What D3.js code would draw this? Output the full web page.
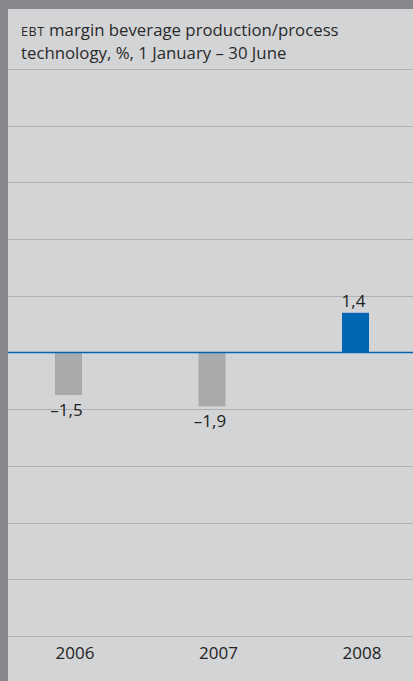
<!DOCTYPE html>
<html>
<head>
	<title>EBT margin</title>
	<meta charset='utf-8'>
	<style>
		body { margin: 0; background: #86878b; }
		.chart { display: block; }
		.title { font-family: 'Open Sans', sans-serif; font-size: 16.8px; fill: #2a2a2a; }
		.title .sc { font-size: 12.5px; letter-spacing: 0.6px; }
		.grid line { stroke: #afb0b2; stroke-width: 1.2px; }
		.zero { stroke: #0066b3; stroke-width: 1.5px; }
		.value, .year { font-family: 'Open Sans', sans-serif; font-size: 17px; fill: #222; }
	</style>
</head>
<body>
<div id="chart"></div>
<script src='https://d3js.org/d3.v7.min.js'></script>
<script>
	'use strict';

	// данные
	const years = ['2006', '2007', '2008'];
	const values = [-1.5, -1.9, 1.4];
	const valueLabels = ['\u20131,5', '\u20131,9', '1,4'];
	const gridTicks = [-10, -8, -6, -4, -2, 2, 4, 6, 8, 10];
	const barColors = ['#a8a9ab', '#a8a9ab', '#0066b3'];

	const W = 413, H = 681;

	const svg = d3.select('#chart').append('svg')
		.attr('class', 'chart')
		.attr('width', W)
		.attr('height', H);

	// фон панели
	svg.append('rect')
		.attr('x', 8).attr('y', 9)
		.attr('width', W - 8).attr('height', H - 9)
		.attr('fill', '#d3d4d6');

	const yScale = d3.scaleLinear().domain([-10, 10]).range([636, 69]);
	const xScale = d3.scalePoint().domain(years).range([68.5, 355.5]);
	const barWidth = 27;

	// заголовок
	const title = svg.append('text').attr('class', 'title');
	const l1 = title.append('tspan').attr('x', 21).attr('y', 36);
	l1.append('tspan').attr('class', 'sc').text('EBT');
	l1.append('tspan').text(' margin beverage production/process');
	title.append('tspan').attr('x', 21).attr('y', 58.5)
		.text('technology, %, 1 January \u2013 30 June');

	// сетка
	svg.append('g').attr('class', 'grid')
		.selectAll('line')
		.data(gridTicks)
		.enter().append('line')
		.attr('x1', 8).attr('x2', W)
		.attr('y1', d => Math.round(yScale(d)) + 0.5)
		.attr('y2', d => Math.round(yScale(d)) + 0.5);

	// столбики
	svg.selectAll('.bar')
		.data(values)
		.enter().append('rect')
		.attr('class', 'bar')
		.attr('x', (d, i) => xScale(years[i]) - barWidth / 2)
		.attr('width', barWidth)
		.attr('y', d => yScale(Math.max(0, d)))
		.attr('height', d => Math.abs(yScale(d) - yScale(0)))
		.attr('fill', (d, i) => barColors[i]);

	// нулевая линия
	svg.append('line')
		.attr('class', 'zero')
		.attr('x1', 8).attr('x2', W)
		.attr('y1', yScale(0)).attr('y2', yScale(0));

	// подписи значений
	svg.selectAll('.value')
		.data(values)
		.enter().append('text')
		.attr('class', 'value')
		.attr('text-anchor', 'middle')
		.attr('x', (d, i) => xScale(years[i]) - 2)
		.attr('y', d => d >= 0 ? yScale(d) - 6 : yScale(d) + 21)
		.text((d, i) => valueLabels[i]);

	// годы
	svg.selectAll('.year')
		.data(years)
		.enter().append('text')
		.attr('class', 'year')
		.attr('text-anchor', 'middle')
		.attr('x', d => xScale(d) + 6.5)
		.attr('y', 659)
		.text(d => d);
</script>
</body>
</html>
